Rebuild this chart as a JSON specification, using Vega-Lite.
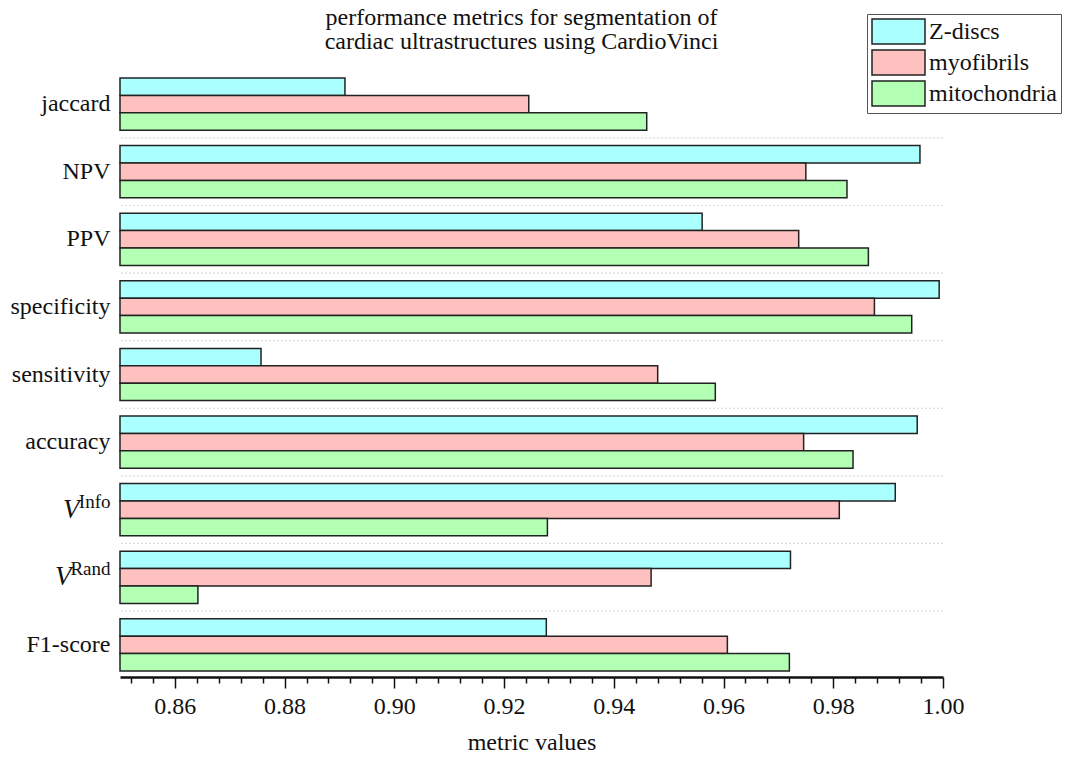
{
  "$schema": "https://vega.github.io/schema/vega-lite/v6.json",
  "width": 823,
  "height": 605,
  "autosize": {"type": "pad"},
  "padding": {"left": 10, "top": 5, "right": 5, "bottom": 0},
  "background": "white",
  "title": {
    "text": ["performance metrics for segmentation of", "cardiac ultrastructures using CardioVinci"],
    "font": "Liberation Serif, Times New Roman, serif",
    "fontSize": 24,
    "fontWeight": "normal",
    "color": "#111",
    "lineHeight": 24,
    "frame": "group",
    "anchor": "middle",
    "offset": -40,
    "dx": -10
  },
  "config": {"view": {"stroke": null}, "font": "Liberation Serif, Times New Roman, serif"},
  "data": {
    "values": [
      {"metric": "jaccard", "structure": "Z-discs", "value": 0.891},
      {"metric": "jaccard", "structure": "myofibrils", "value": 0.9245},
      {"metric": "jaccard", "structure": "mitochondria", "value": 0.946},
      {"metric": "NPV", "structure": "Z-discs", "value": 0.9958},
      {"metric": "NPV", "structure": "myofibrils", "value": 0.975},
      {"metric": "NPV", "structure": "mitochondria", "value": 0.9825},
      {"metric": "PPV", "structure": "Z-discs", "value": 0.9561},
      {"metric": "PPV", "structure": "myofibrils", "value": 0.9737},
      {"metric": "PPV", "structure": "mitochondria", "value": 0.9864},
      {"metric": "specificity", "structure": "Z-discs", "value": 0.9993},
      {"metric": "specificity", "structure": "myofibrils", "value": 0.9875},
      {"metric": "specificity", "structure": "mitochondria", "value": 0.9943},
      {"metric": "sensitivity", "structure": "Z-discs", "value": 0.8757},
      {"metric": "sensitivity", "structure": "myofibrils", "value": 0.948},
      {"metric": "sensitivity", "structure": "mitochondria", "value": 0.9585},
      {"metric": "accuracy", "structure": "Z-discs", "value": 0.9953},
      {"metric": "accuracy", "structure": "myofibrils", "value": 0.9746},
      {"metric": "accuracy", "structure": "mitochondria", "value": 0.9836},
      {"metric": "V^Info", "structure": "Z-discs", "value": 0.9913},
      {"metric": "V^Info", "structure": "myofibrils", "value": 0.9811},
      {"metric": "V^Info", "structure": "mitochondria", "value": 0.9279},
      {"metric": "V^Rand", "structure": "Z-discs", "value": 0.9722},
      {"metric": "V^Rand", "structure": "myofibrils", "value": 0.9468},
      {"metric": "V^Rand", "structure": "mitochondria", "value": 0.8642},
      {"metric": "F1-score", "structure": "Z-discs", "value": 0.9277},
      {"metric": "F1-score", "structure": "myofibrils", "value": 0.9607},
      {"metric": "F1-score", "structure": "mitochondria", "value": 0.972}
    ]
  },
  "layer": [
    {
      "transform": [
        {"filter": "datum.structure == 'Z-discs' && datum.metric != 'jaccard'"}
      ],
      "mark": {"type": "rule", "color": "#dcdcdc", "strokeWidth": 1.2, "strokeDash": [2, 2]},
      "encoding": {
        "y": {
          "field": "metric",
          "type": "nominal",
          "bandPosition": -0.147,
          "scale": {
            "domain": ["jaccard", "NPV", "PPV", "specificity", "sensitivity", "accuracy", "V^Info", "V^Rand", "F1-score"],
            "paddingInner": 0.227,
            "paddingOuter": 0.089
          },
          "axis": {
            "orient": "left",
            "title": null,
            "domain": false,
            "ticks": false,
            "grid": false,
            "labelExpr": "indexof(datum.value,'^') >= 0 ? slice(datum.value, indexof(datum.value,'^') + 1) : ''",
            "labelFont": "Liberation Serif, Times New Roman, serif",
            "labelFontSize": 19,
            "labelColor": "#111",
            "labelPadding": 10,
            "labelOffset": -8
          }
        }
      }
    },
    {
      "mark": {"type": "bar", "stroke": "#222", "strokeWidth": 1.5},
      "encoding": {
        "y": {
          "field": "metric",
          "type": "nominal",
          "scale": {
            "domain": ["jaccard", "NPV", "PPV", "specificity", "sensitivity", "accuracy", "V^Info", "V^Rand", "F1-score"],
            "paddingInner": 0.227,
            "paddingOuter": 0.089
          },
          "axis": {
            "orient": "left",
            "title": null,
            "domain": false,
            "ticks": false,
            "grid": false,
            "labelExpr": "indexof(datum.value,'^') >= 0 ? 'V' : datum.value",
            "labelFont": "Liberation Serif, Times New Roman, serif",
            "labelColor": "#111",
            "labelFontSize": {"condition": {"test": "indexof(datum.value,'^') >= 0", "value": 27}, "value": 24},
            "labelFontStyle": {"condition": {"test": "indexof(datum.value,'^') >= 0", "value": "italic"}, "value": "normal"},
            "labelPadding": {
              "condition": [
                {"test": "datum.value == 'V^Info'", "value": 41},
                {"test": "datum.value == 'V^Rand'", "value": 49}
              ],
              "value": 10
            }
          }
        },
        "yOffset": {
          "field": "structure",
          "type": "nominal",
          "scale": {"domain": ["Z-discs", "myofibrils", "mitochondria"], "paddingInner": 0, "paddingOuter": 0}
        },
        "x": {
          "field": "value",
          "type": "quantitative",
          "scale": {"domain": [0.85, 1.0], "zero": false, "nice": false},
          "axis": {
            "title": "metric values",
            "titleFont": "Liberation Serif, Times New Roman, serif",
            "titleFontSize": 24,
            "titleFontWeight": "normal",
            "titleColor": "#111",
            "titlePadding": 12,
            "grid": false,
            "domainColor": "#111",
            "domainWidth": 2.5,
            "tickColor": "#111",
            "tickWidth": 1.5,
            "values": [0.852, 0.856, 0.86, 0.864, 0.868, 0.872, 0.876, 0.88, 0.884, 0.888, 0.892, 0.896, 0.9, 0.904, 0.908, 0.912, 0.916, 0.92, 0.924, 0.928, 0.932, 0.936, 0.94, 0.944, 0.948, 0.952, 0.956, 0.96, 0.964, 0.968, 0.972, 0.976, 0.98, 0.984, 0.988, 0.992, 0.996, 1.0],
            "tickSize": {"condition": {"test": "abs(datum.value * 50 - round(datum.value * 50)) < 0.01", "value": 11}, "value": 6},
            "labelExpr": "abs(datum.value * 50 - round(datum.value * 50)) < 0.01 ? format(datum.value, '.2f') : ''",
            "labelFont": "Liberation Serif, Times New Roman, serif",
            "labelFontSize": 24,
            "labelColor": "#111",
            "labelPadding": 6,
            "labelFlush": false,
            "labelOverlap": false
          }
        },
        "x2": {"datum": 0.85},
        "color": {
          "field": "structure",
          "type": "nominal",
          "scale": {"domain": ["Z-discs", "myofibrils", "mitochondria"], "range": ["#aaffff", "#ffc0c0", "#b3ffb3"]},
          "legend": {
            "title": null,
            "orient": "none",
            "legendX": 747,
            "legendY": -58,
            "direction": "vertical",
            "symbolType": "M-2.12,-1H2.12V1H-2.12Z",
            "symbolSize": 625,
            "symbolOffset": 14,
            "symbolStrokeColor": "#222",
            "symbolStrokeWidth": 1.5,
            "symbolOpacity": 1,
            "labelFont": "Liberation Serif, Times New Roman, serif",
            "labelFontSize": 24,
            "labelColor": "#111",
            "labelOffset": 17,
            "labelLimit": 300,
            "rowPadding": 0,
            "padding": 4,
            "strokeColor": "#555",
            "fillColor": "white"
          }
        }
      }
    }
  ],
  "resolve": {"axis": {"y": "independent"}}
}
